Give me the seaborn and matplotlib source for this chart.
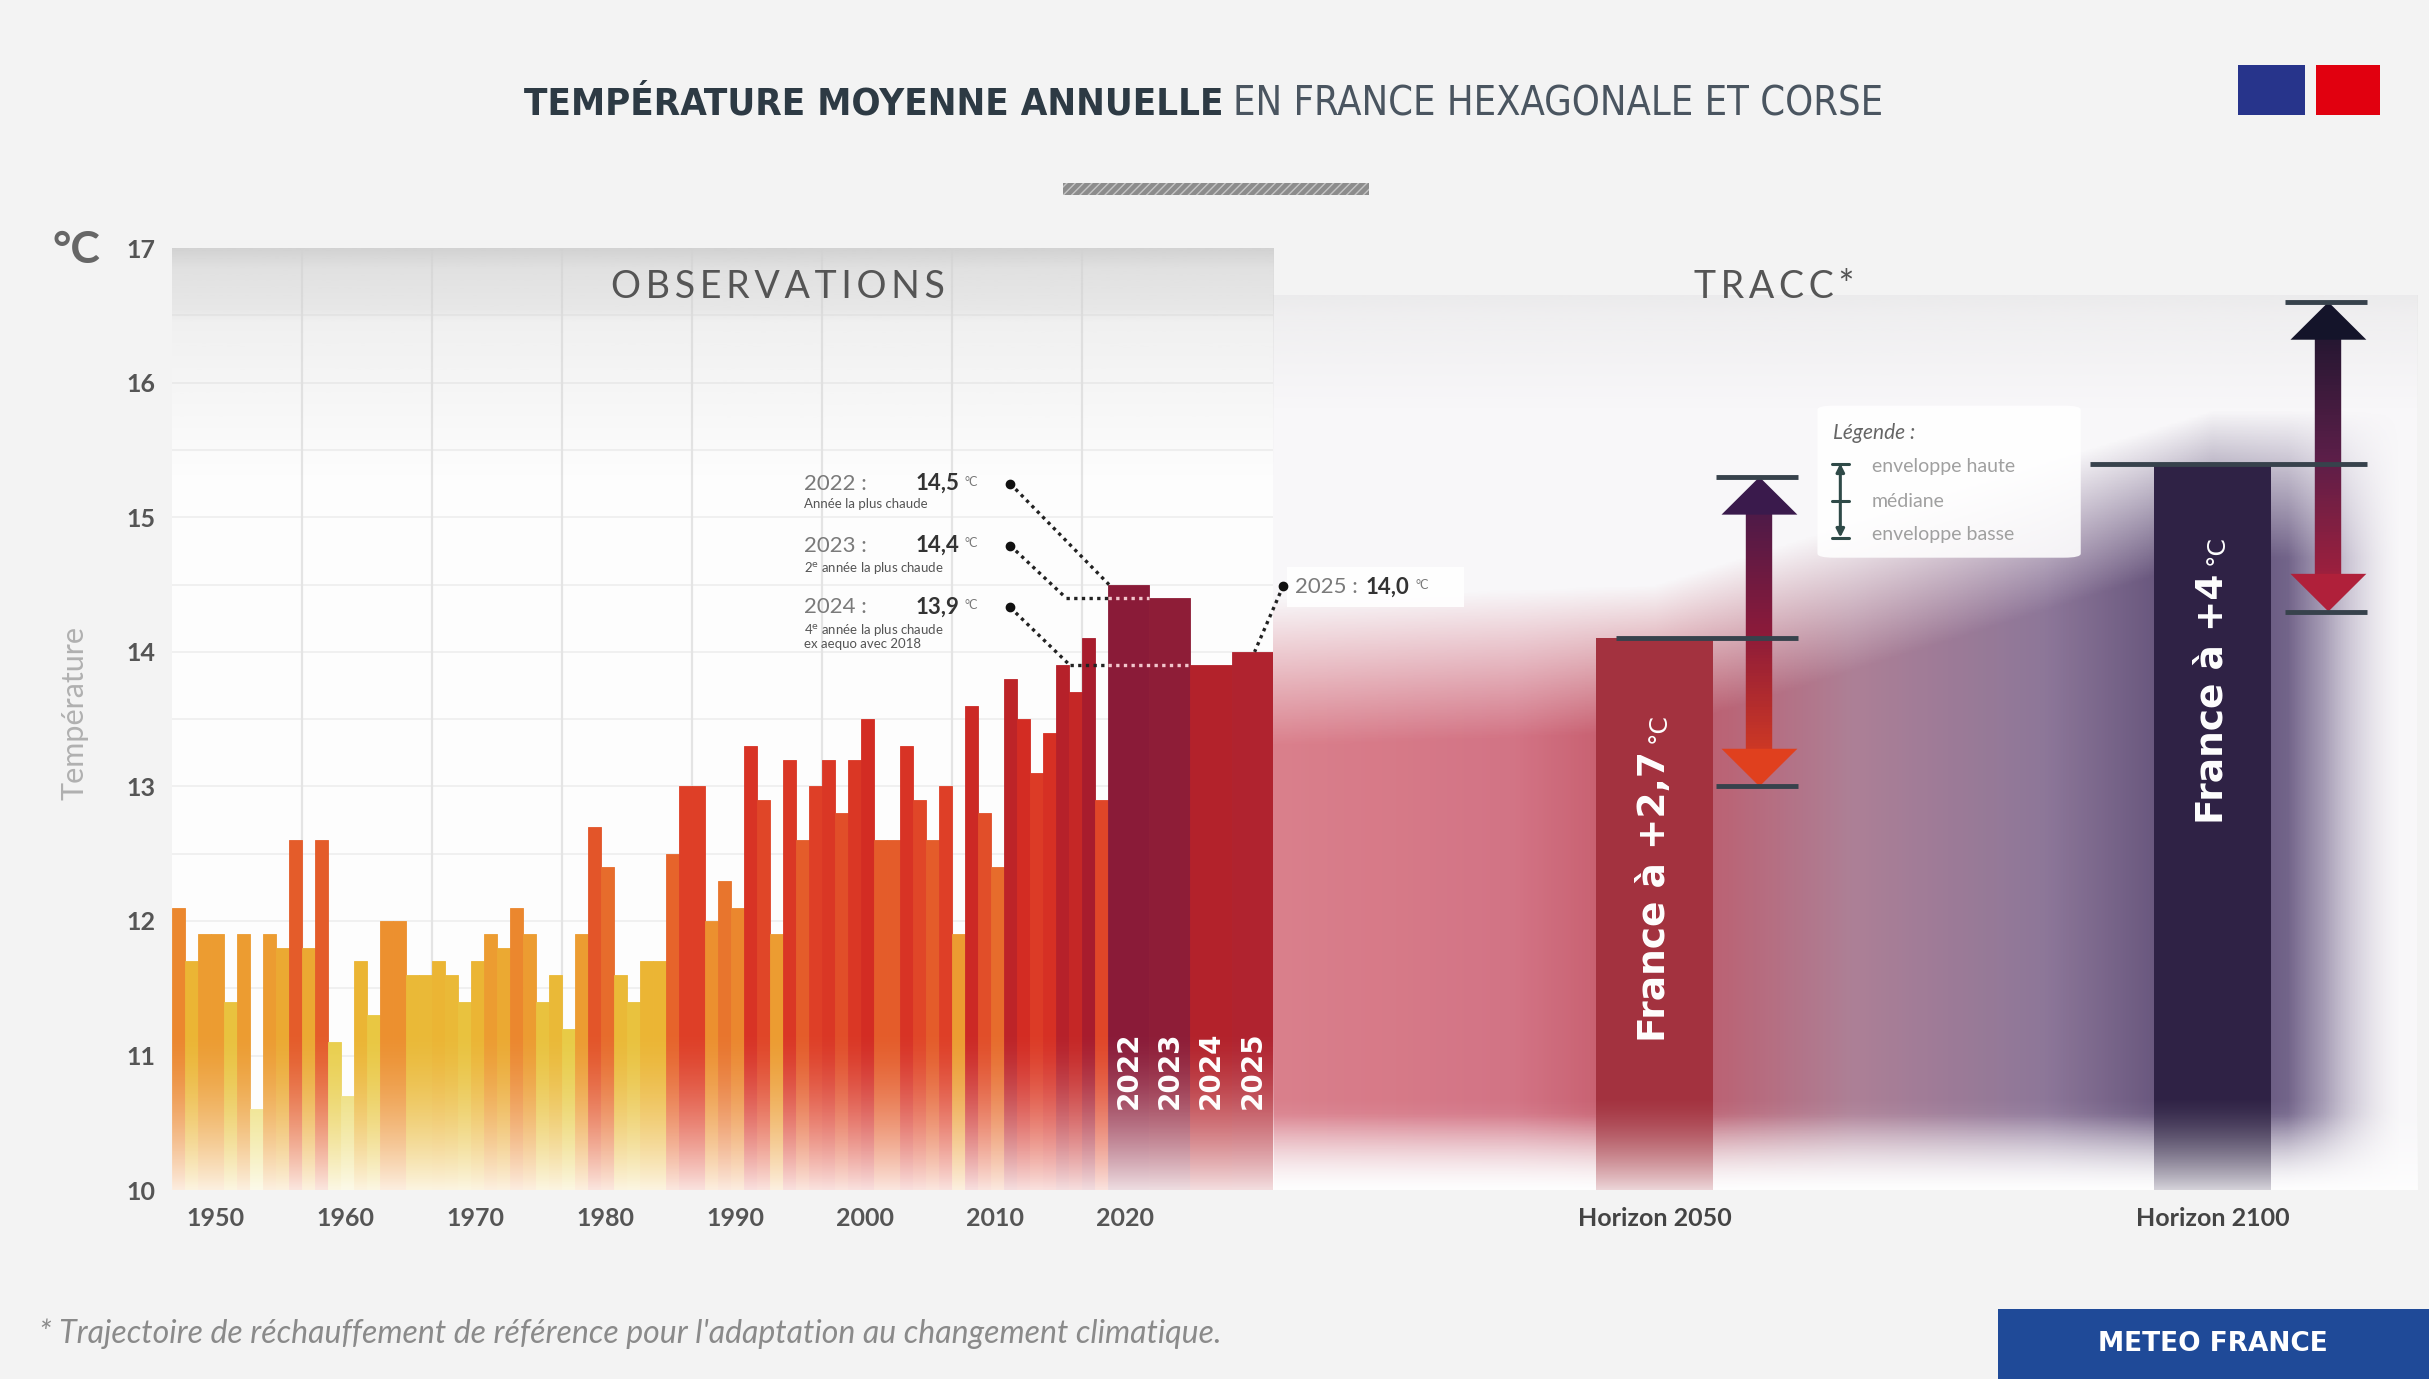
import numpy as np
import pandas as pd
import seaborn as sns
import matplotlib.pyplot as plt
from matplotlib import font_manager
from matplotlib.colors import LinearSegmentedColormap, Normalize, to_rgb
from matplotlib.collections import LineCollection
from matplotlib.patches import Rectangle, FancyBboxPatch, Polygon

# values
obs_years = list(range(1950, 2022))
obs_temps = [12.1, 11.7, 11.9, 11.9, 11.4, 11.9, 10.6, 11.9, 11.8, 12.6,
             11.8, 12.6, 11.1, 10.7, 11.7, 11.3, 12.0, 12.0, 11.6, 11.6,
             11.7, 11.6, 11.4, 11.7, 11.9, 11.8, 12.1, 11.9, 11.4, 11.6,
             11.2, 11.9, 12.7, 12.4, 11.6, 11.4, 11.7, 11.7, 12.5, 13.0,
             13.0, 12.0, 12.3, 12.1, 13.3, 12.9, 11.9, 13.2, 12.6, 13.0,
             13.2, 12.8, 13.2, 13.5, 12.6, 12.6, 13.3, 12.9, 12.6, 13.0,
             11.9, 13.6, 12.8, 12.4, 13.8, 13.5, 13.1, 13.4, 13.9, 13.7,
             14.1, 12.9]

recent_years = ["2022", "2023", "2024", "2025"]
recent_temps = [14.5, 14.4, 13.9, 14.0]
recent_colors = ["#8a1b38", "#8e1d37", "#b3222b", "#b0232f"]
recent_notes = ["Année la plus chaude",
                "2$^{\\mathrm{e}}$ année la plus chaude",
                "4$^{\\mathrm{e}}$ année la plus chaude\nex aequo avec 2018"]

horizons = ["Horizon 2050", "Horizon 2100"]
tracc_median = [14.1, 15.4]
tracc_low = [13.0, 14.3]
tracc_high = [15.3, 16.6]
tracc_text = ["France à +2,7", "France à +4"]
tracc_colors = ["#b61f30", "#2e1c4b"]

decade_labels = [1950, 1960, 1970, 1980, 1990, 2000, 2010, 2020]


def fr(v):
    return f"{v:.1f}".replace(".", ",")


sns.set_theme(style="white")
plt.rcParams["font.family"] = ["Lato", "DejaVu Sans"]

names = {f.name for f in font_manager.fontManager.ttflist}
if "Liberation Sans Narrow" in names:
    title_font = dict(family="Liberation Sans Narrow")
else:
    title_font = dict(family="DejaVu Sans", stretch="condensed")

fig = plt.figure(figsize=(24.29, 13.79), dpi=100, facecolor="#f3f3f3")
ax1 = fig.add_axes([0.0708, 0.137, 0.4533, 0.683])
ax2 = fig.add_axes([0.5241, 0.137, 0.4710, 0.683])
ax1.set_zorder(3)
ax1.set_facecolor("#fdfdfd")
ax2.set_facecolor("none")

# ---------- observations ----------
BIG_W = 3.18
X0, X1 = 1949.5, 2021.5 + 4 * BIG_W
big_x = 2021.5 + BIG_W * (np.arange(len(recent_temps)) + 0.5)

stops = [(10.6, "#ecdd72"), (11.2, "#e8cb45"), (11.7, "#ebb534"), (12.0, "#ec902f"),
         (12.5, "#e6632b"), (13.0, "#de3f27"), (13.5, "#d42c23"), (14.1, "#a81c2d")]
heat = LinearSegmentedColormap.from_list("heat", [((v - 10.6) / 3.5, c) for v, c in stops])
norm = Normalize(10.6, 14.1)

obs = pd.DataFrame({"year": obs_years, "temp": obs_temps})
sns.barplot(data=obs, x="year", y="temp", native_scale=True, width=1.0,
            errorbar=None, color="#e06020", ax=ax1, zorder=2)
for p, t in zip(ax1.patches, obs_temps):
    c = heat(norm(t))
    p.set_facecolor(c)
    p.set_edgecolor(c)
    p.set_linewidth(0.6)

n0 = len(ax1.patches)
recent = pd.DataFrame({"x": big_x, "temp": recent_temps})
sns.barplot(data=recent, x="x", y="temp", native_scale=True, width=1.0,
            errorbar=None, color="#8a1b38", ax=ax1, zorder=2)
for p, c in zip(ax1.patches[n0:], recent_colors):
    p.set_facecolor(c)
    p.set_edgecolor(c)
    p.set_linewidth(0.6)

# grey header band + faint grid
gy = np.linspace(15.3, 17, 200)
head = np.zeros((200, 1, 4))
head[..., :3] = to_rgb("#d2d2d2")
head[:, 0, 3] = np.interp(gy, [15.3, 16.45, 16.55, 16.85, 17], [0, 0.3, 0.5, 0.65, 1.0])
ax1.imshow(head, extent=[X0, X1, 15.3, 17], origin="lower", aspect="auto", zorder=0.3)
for y in np.arange(10.5, 17, 0.5):
    ax1.axhline(y, color="#eeeeee", lw=1.2, zorder=0.2)
for d in decade_labels[1:]:
    ax1.axvline(d - 0.5, color="#e4e4e4", lw=1.6, zorder=0.2)

fade = np.ones((120, 1, 4))
fade[:, 0, 3] = 0.85 * (1 - np.linspace(0, 1, 120)) ** 1.6
ax1.imshow(fade, extent=[X0, X1, 10, 11.2], origin="lower", aspect="auto", zorder=2.5)

for x, lab in zip(big_x, recent_years):
    ax1.text(x, 10.6, lab, rotation=90, ha="center", va="bottom", color="white",
             fontsize=20, fontweight="bold", family="DejaVu Sans", zorder=6)

ax1.text(1996.1, 16.71, "\u2009".join("OBSERVATIONS"), ha="center", va="center",
         fontsize=27, color="#555555", zorder=6)

# record annotations
dot_x = 2014.0
label_y = [15.25, 14.79, 14.33]
diag_end_x = [2021.6, 2018.3, 2018.6]
bar_left = [2021.5 + k * BIG_W for k in range(3)]
dotted = (0, (1, 1.3))
for k in range(3):
    ax1.text(1998.1, label_y[k], f"{recent_years[k]} :", fontsize=16, color="#7a7a7a",
             ha="left", va="center", zorder=6)
    t = ax1.text(2006.7, label_y[k], fr(recent_temps[k]), fontsize=16, fontweight="bold",
                 color="#333333", ha="left", va="center", zorder=6)
    ax1.annotate("°C", xy=(1, 0.6), xycoords=t, xytext=(4, 0), textcoords="offset points",
                 fontsize=9, color="#777777", ha="left", va="center", zorder=6)
    ax1.text(1998.1, label_y[k] - 0.11, recent_notes[k], fontsize=9.5, color="#555555",
             ha="left", va="top", linespacing=1.0, zorder=6)
    ax1.plot(dot_x, label_y[k], "o", color="#111111", ms=6, zorder=6)
    ax1.plot([dot_x, diag_end_x[k]], [label_y[k], recent_temps[k]], ls=dotted,
             color="#222222", lw=2.4, zorder=5)
    if k > 0:
        ax1.plot([diag_end_x[k], 2021.5], [recent_temps[k]] * 2, ls=dotted,
                 color="#222222", lw=2.4, zorder=5)
        ax1.plot([2021.5, bar_left[k] if k == 1 else 2021.5 + 2 * BIG_W], [recent_temps[k]] * 2,
                 ls=dotted, color="#f2c6cc", lw=2.4, zorder=5)

# 2025 callout, sitting over the TRACC panel
ax1.add_patch(Rectangle((2035.3, 14.33), 13.6, 0.30, facecolor="white", edgecolor="none",
                        alpha=0.92, clip_on=False, zorder=5))
t = ax1.text(2035.9, 14.48, f"{recent_years[3]} :", fontsize=16, color="#7a7a7a",
             ha="left", va="center", zorder=6)
t2 = ax1.annotate(fr(recent_temps[3]), xy=(1, 0.5), xycoords=t, xytext=(6, 0),
                  textcoords="offset points", fontsize=16, fontweight="bold",
                  color="#333333", ha="left", va="center", zorder=6)
ax1.annotate("°C", xy=(1, 0.6), xycoords=t2, xytext=(4, 0), textcoords="offset points",
             fontsize=9, color="#777777", ha="left", va="center", zorder=6)
ax1.plot(2035.0, 14.49, "o", color="#111111", ms=6, zorder=6, clip_on=False)
ax1.plot([2035.0, 2032.8], [14.49, recent_temps[3]], ls=dotted, color="#222222",
         lw=2.4, zorder=5, clip_on=False)

ax1.set_xlim(X0, X1)
ax1.set_ylim(10, 17)
ax1.set_xticks([d + 2.85 for d in decade_labels], [str(d) for d in decade_labels])
ax1.set_yticks(range(10, 18))
ax1.tick_params(axis="both", length=0, labelsize=18, labelcolor="#555555")
ax1.tick_params(axis="x", pad=12)
ax1.tick_params(axis="y", pad=12)
for lab in ax1.get_xticklabels() + ax1.get_yticklabels():
    lab.set_fontweight("bold")
ax1.set_xlabel("")
ax1.set_ylabel("")
for s in ax1.spines.values():
    s.set_visible(False)

# ---------- TRACC ----------
T0, T1 = -0.684, 1.367
ax2.add_patch(Rectangle((T0, 10), T1 - T0, 6.65, facecolor="#f8f7f9", edgecolor="none", zorder=0.1))
sns.barplot(x=horizons, y=tracc_median, hue=horizons, palette=tracc_colors, width=0.21,
            legend=False, ax=ax2, linewidth=0, zorder=2)

gx = np.linspace(T0, T1, 400)
gy = np.linspace(10, 17, 300)
GX, GY = np.meshgrid(gx, gy)
glow_x = [T0, -0.25, 0.0, 0.35, 0.7, 1.0, 1.2, T1]
glow_c = ["#d56a78", "#cc5c70", "#b8384a", "#a06a84", "#7a6088", "#3a2858", "#6a5a84", "#d8d0de"]
rgb = np.stack([np.interp(gx, glow_x, [to_rgb(c)[i] for c in glow_c]) for i in range(3)], axis=-1)
top = np.interp(gx, [T0, 0, 1, T1], [recent_temps[-1], tracc_median[0], tracc_median[1], tracc_median[1]])
a_top = np.clip((top[None, :] + 0.4 - GY) / 1.1, 0, 1)
a_bot = np.clip((GY - 10.0) / 0.55, 0, 1)
a_right = np.clip((T1 - 0.03 - GX) / 0.2, 0, 1)
glow = np.zeros((300, 400, 4))
glow[..., :3] = rgb[None, :, :]
glow[..., 3] = 0.85 * a_top * a_bot * a_right
ax2.imshow(glow, extent=[T0, T1, 10, 17], origin="lower", aspect="auto", zorder=0.5)

head2 = np.zeros((200, 1, 4))
head2[..., :3] = to_rgb("#dcdcdc")
gy2 = np.linspace(15.8, 16.65, 200)
head2[:, 0, 3] = np.interp(gy2, [15.8, 16.5, 16.65], [0, 0.3, 0.45])
ax2.imshow(head2, extent=[T0, T1, 15.8, 16.65], origin="lower", aspect="auto", zorder=0.3)

fade2 = np.ones((120, 1, 4))
fade2[:, 0, 3] = 0.8 * (1 - np.linspace(0, 1, 120)) ** 1.5
ax2.imshow(fade2, extent=[T0, T1, 10, 10.7], origin="lower", aspect="auto", zorder=2.5)

ax2.text(0.214, 16.71, "\u2009".join("TRACC*"), ha="center", va="center", fontsize=27,
         color="#555555", zorder=6)


def grad_arrow(ax, x, lo, hi, c_lo, c_mid, c_hi, hl=0.28, hw=0.068, lw=19):
    cm = LinearSegmentedColormap.from_list("arr", [c_lo, c_mid, c_hi])
    ys = np.linspace(lo + hl * 0.9, hi - hl * 0.9, 80)
    segs = [[(x, ys[i]), (x, ys[i + 1])] for i in range(len(ys) - 1)]
    cols = cm((ys[:-1] - lo) / (hi - lo))
    ax.add_collection(LineCollection(segs, colors=cols, linewidths=lw, capstyle="butt", zorder=4))
    ax.add_patch(Polygon([(x - hw, hi - hl), (x + hw, hi - hl), (x, hi)], closed=True,
                         facecolor=c_hi, edgecolor="none", zorder=4))
    ax.add_patch(Polygon([(x - hw, lo + hl), (x + hw, lo + hl), (x, lo)], closed=True,
                         facecolor=c_lo, edgecolor="none", zorder=4))


arrow_dx = [0.188, 0.208]
med_start = [-0.07, -0.22]
arrow_cols = [("#e0401e", "#8a1a3a", "#3a1a4c"), ("#b0203a", "#5a1e48", "#14142a")]
for i in range(2):
    ax_ = i + arrow_dx[i]
    grad_arrow(ax2, ax_, tracc_low[i], tracc_high[i], *arrow_cols[i])
    for yv in (tracc_low[i], tracc_high[i]):
        ax2.plot([ax_ - 0.078, ax_ + 0.07], [yv, yv], color="#37424c", lw=3.5,
                 solid_capstyle="butt", zorder=5)
    ax2.plot([i + med_start[i], ax_ + 0.07], [tracc_median[i]] * 2, color="#37424c",
             lw=3.5, solid_capstyle="butt", zorder=5)

text_base = [11.1, 12.72]
for i in range(2):
    t = ax2.text(i, text_base[i], tracc_text[i], rotation=90, ha="center", va="bottom",
                 color="white", fontsize=27, fontweight="bold", family="DejaVu Sans", zorder=6)
    ax2.annotate("°C", xy=(0.5, 1), xycoords=t, xytext=(3, 6), textcoords="offset points",
                 rotation=90, ha="center", va="bottom", color="white", fontsize=18,
                 family="DejaVu Sans", zorder=6)

# legend card
ax2.add_patch(FancyBboxPatch((0.292, 14.70), 0.472, 1.13,
                             boxstyle="round,pad=0,rounding_size=0.03",
                             facecolor="white", edgecolor="none", alpha=0.88, zorder=5))
ax2.text(0.319, 15.63, "Légende :", fontsize=15, style="italic", color="#666666",
         ha="left", va="center", zorder=6)
for yv, lab in zip([15.38, 15.12, 14.87], ["enveloppe haute", "médiane", "enveloppe basse"]):
    ax2.text(0.389, yv, lab, fontsize=14, color="#a0a0a0", ha="left", va="center", zorder=6)
ax2.annotate("", xy=(0.333, 15.40), xytext=(0.333, 14.85),
             arrowprops=dict(arrowstyle="<|-|>", color="#2f4a48", lw=2.2,
                             mutation_scale=12, shrinkA=0, shrinkB=0), zorder=6)
for yv in (15.40, 15.12, 14.85):
    ax2.plot([0.318, 0.348], [yv, yv], color="#2f4a48", lw=2.2, zorder=6)

ax2.set_xlim(T0, T1)
ax2.set_ylim(10, 17)
ax2.set_yticks([])
ax2.tick_params(axis="x", length=0, pad=12, labelsize=18, labelcolor="#444444")
for lab in ax2.get_xticklabels():
    lab.set_fontweight("bold")
ax2.set_xlabel("")
ax2.set_ylabel("")
for s in ax2.spines.values():
    s.set_visible(False)

# ---------- figure furniture ----------
fig.text(0.5035, 0.924, "TEMPÉRATURE MOYENNE ANNUELLE", ha="right", va="center",
         fontsize=27.5, fontweight="bold", color="#2d3a44", **title_font)
fig.text(0.5075, 0.924, "EN FRANCE HEXAGONALE ET CORSE", ha="left", va="center",
         fontsize=28.5, color="#4a5560", **title_font)
fig.patches.append(Rectangle((0.4376, 0.8586), 0.126, 0.0087, transform=fig.transFigure,
                             facecolor="#8c8c8c", edgecolor="#c4c4c4", hatch="////", lw=0))

fig.patches.append(Rectangle((0.9214, 0.9166), 0.0276, 0.0363, transform=fig.transFigure,
                             facecolor="#27348b", edgecolor="none"))
fig.patches.append(Rectangle((0.9535, 0.9166), 0.0265, 0.0363, transform=fig.transFigure,
                             facecolor="#e1000f", edgecolor="none"))

fig.text(0.0316, 0.819, "°C", ha="center", va="center", fontsize=32, fontweight="bold",
         color="#666666")
fig.text(0.0306, 0.483, "Température", rotation=90, ha="center", va="center",
         fontsize=22, color="#b0b0b0")

fig.text(0.0159, 0.033, "* Trajectoire de réchauffement de référence pour l'adaptation au changement climatique.",
         ha="left", va="center", fontsize=23, style="italic", color="#8a8a8a")
fig.patches.append(Rectangle((0.8226, 0.0), 0.1774, 0.0508, transform=fig.transFigure,
                             facecolor="#1f4a98", edgecolor="none"))
fig.text(0.911, 0.0254, "METEO FRANCE", ha="center", va="center", fontsize=19,
         fontweight="bold", color="white", family="DejaVu Sans")

fig.savefig("out.png", dpi=100, facecolor=fig.get_facecolor())
